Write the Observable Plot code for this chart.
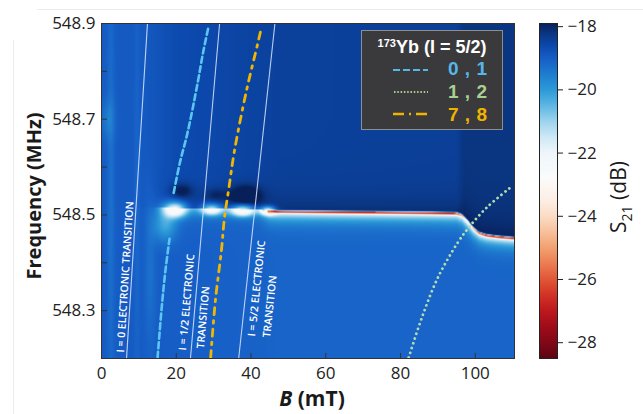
<!DOCTYPE html>
<html><head><meta charset="utf-8">
<script src="https://cdn.jsdelivr.net/npm/d3@7"></script>
<script src="https://cdn.jsdelivr.net/npm/@observablehq/plot@0.6"></script>
<style>
body{margin:0;background:#fff;font-family:"Open Sans",sans-serif;}
#wrap{position:relative;width:643px;height:414px;overflow:hidden;background:#fff;}
#main{position:absolute;left:0;top:0;}
#cbar{position:absolute;left:539px;top:0;}
.rot{position:absolute;transform:translate(-50%,-50%) rotate(-90deg);white-space:nowrap;color:#1a1a1a;}
#xlab{position:absolute;transform:translate(-50%,-50%);white-space:nowrap;color:#1a1a1a;font-weight:700;font-size:21px;left:312px;top:398px;}
#legend{position:absolute;left:361px;top:30px;width:142px;height:100px;background:#3a3a3c;border:1px solid #8e8e8e;box-sizing:border-box;color:#fff;font-family:"Liberation Sans",Arial,sans-serif;}
#legend .t{position:absolute;left:0;width:140px;text-align:center;top:5px;font-weight:700;font-size:18px;line-height:22px;}
#legend .t sup{font-size:11px;vertical-align:0;position:relative;top:-6px;}
#legend .r{position:absolute;left:86px;font-weight:700;font-size:19px;line-height:22px;letter-spacing:0.5px;}
#artT{position:absolute;left:37px;top:9px;width:606px;height:1px;background:#ececec;}
#artL{position:absolute;left:13px;top:40px;width:1px;height:374px;background:#ececec;}
</style></head><body>
<div id="wrap">
  <div id="artT"></div><div id="artL"></div>
  <div id="main"></div>
  <div id="cbar"></div>
  <div class="rot" style="left:33px;top:196px;font-weight:700;font-size:20px;">Frequency (MHz)</div>
  <div id="xlab"><i>B</i> (mT)</div>
  <div class="rot" style="left:620px;top:197px;font-size:21px;">S<sub style="font-size:14px;">21</sub> (dB)</div>
  <div id="legend">
    <svg width="140" height="98" style="position:absolute;left:0;top:0">
      <line x1="31" x2="66" y1="39" y2="39" stroke="#56b8e8" stroke-width="2.2" stroke-dasharray="7,3"/>
      <line x1="32" x2="66" y1="61" y2="61" stroke="#a9d18e" stroke-width="1.8" stroke-dasharray="1.5,1.8"/>
      <line x1="31" x2="66" y1="83" y2="83" stroke="#f0b400" stroke-width="2.4" stroke-dasharray="11,5,2,5"/>
    </svg>
    <div class="t"><sup>173</sup>Yb (I = 5/2)</div>
    <div class="r" style="top:27px;color:#56b8e8;">0 , 1</div>
    <div class="r" style="top:50px;color:#a9d18e;">1 , 2</div>
    <div class="r" style="top:73px;color:#f0b400;">7 , 8</div>
  </div>
</div>
<script>
// ---- axes ----
const bDomain = [0, 110.5];
const fDomain = [548.2, 548.9];
const xTicks = [0, 20, 40, 60, 80, 100];
const yTickLabels = [548.3, 548.5, 548.7, 548.9];
const yTickMarks = [548.3, 548.4, 548.5, 548.6, 548.7, 548.8];
const cbDomain = [-28.5, -17.9];
const cbTicks = [-18, -20, -22, -24, -26, -28];

// ---- resonance centre frequency vs field ----
const resB = [15, 25, 35, 42, 47, 60, 75, 88, 95, 96.5, 98, 99.5, 101, 103, 106, 110.5];
const resF = [548.515, 548.514, 548.513, 548.511, 548.508, 548.507, 548.506, 548.505, 548.504, 548.500, 548.488, 548.473, 548.463, 548.458, 548.455, 548.452];
// background S21 above / below the resonance (dB)
const upB = [0, 12, 20, 40, 48, 95, 97, 110.5];
const upV = [-18.95, -18.9, -18.65, -18.5, -18.45, -18.42, -18.2, -18.2];
const loB = [0, 12, 20, 40, 48, 110.5];
const loV = [-18.95, -18.95, -19.0, -19.05, -19.1, -19.1];
// bright glow just below the resonance (dB drop)
const glowB = [0, 14, 18, 42, 45, 95, 97.5, 100, 110.5];
const glowV = [0, 0, 1.2, 1.2, 3.8, 3.8, 4.2, 3.8, 3.8];
// darkening just above the resonance (dB rise)
const darkB = [0, 14, 20, 42, 46, 95, 97, 110.5];
const darkV = [0, 0, 0.2, 0.3, 0.35, 0.35, 0.3, 0.3];
// sharp absorption line: weight and minimum value
const lineWB = [0, 43, 46, 110.5];
const lineWV = [0, 0, 1, 1];
const lineB = [0, 42, 45, 47, 94, 96.5, 98, 100, 103, 110.5];
const lineV = [-19, -19, -23, -27.3, -27.3, -25, -22.8, -25.5, -27, -27];
// localized features in the low-field region: B, f, widthB, widthF, dB
const blobB = [19.8, 17.0, 21.5, 29.5, 30.5, 37.8, 38.5, 44.5, 2.5, 1.5, 9.5, 13];
const blobF = [548.511, 548.480, 548.550, 548.511, 548.542, 548.509, 548.540, 548.509, 548.55, 548.70, 548.55, 548.38];
const blobSB = [3.0, 3.2, 3.0, 2.8, 3.0, 3.2, 4.0, 2.0, 1.0, 2.0, 0.8, 1.5];
const blobSF = [0.016, 0.035, 0.016, 0.012, 0.014, 0.012, 0.02, 0.009, 0.5, 0.04, 0.5, 0.15];
const blobA = [-3.4, -1.2, 0.8, -3.0, 0.5, -3.6, 1.3, -3.4, -0.35, -0.45, -0.2, -0.35];

// ---- transition curves ----
const elecBot = [6.7, 23.8, 36.7];
const elecTop = [12.3, 31.6, 46.4];
const blueUpB = [19.3, 21.0, 23.0, 25.7, 27.2, 28.6];
const blueUpF = [548.546, 548.61, 548.671, 548.775, 548.84, 548.892];
const blueLoB = [15.0, 16.3, 17.2, 18.2];
const blueLoF = [548.202, 548.323, 548.39, 548.45];
const goldB = [29.2, 30.5, 32.1, 32.9, 34.0, 35.6, 38.8, 41.8, 42.6];
const goldF = [548.202, 548.323, 548.427, 548.494, 548.552, 548.635, 548.760, 548.858, 548.885];
const greenB = [82.2, 85.7, 90.0, 95.3, 98.8, 103.3, 109.2];
const greenF = [548.202, 548.285, 548.369, 548.442, 548.479, 548.517, 548.556];

// ---- annotation labels ----
const labels = ["I = 0 ELECTRONIC TRANSITION", "I = 1/2 ELECTRONIC", "TRANSITION", "I = 5/2 ELECTRONIC", "TRANSITION"];
const labelB = [5.1, 21.7, 26.5, 40.2, 44.2];
const labelF = [548.2125, 548.217, 548.221, 548.246, 548.244];
const labelRot = [-86.4, -85, -85, -84, -84];

// ---- colour map ----
const cStops = [-28.5, -28, -27.5, -27, -26.5, -26, -25.5, -25, -24.5, -24, -23.5, -22.8, -22, -21.5, -21, -20.5, -20, -19.5, -19, -18.6, -18.2, -17.9];
const cCols = ["#5c0412", "#800818", "#9e0c1a", "#bc181e", "#d23226", "#e05636", "#ec7c52", "#f2a070", "#f7c09a", "#fbdcc4", "#fdeee4", "#fbfbfb", "#eef6fb", "#cfe9f6", "#9dd3ee", "#5db7e3", "#2c9ad8", "#1f7ccf", "#165ec6", "#0c48ac", "#0a3580", "#08205a"];
const colorScale = {type: "linear", domain: cStops, range: cCols, interpolate: "rgb", clamp: true};

const sc = (xs, ys) => d3.scaleLinear().domain(xs).range(ys).clamp(true);
const fRes = sc(resB, resF), up = sc(upB, upV), lo = sc(loB, loV), glow = sc(glowB, glowV),
      dark = sc(darkB, darkV), lineW = sc(lineWB, lineWV), lineVal = sc(lineB, lineV);

function s21(B, f) {
  const d = f - fRes(B);
  let v = d >= 0 ? up(B) + dark(B) * Math.exp(-d / 0.03) : lo(B) - glow(B) * Math.exp(d / 0.014);
  const w = lineW(B) * Math.exp(-(((d + 0.0012) / 0.0024) ** 2));
  v = v * (1 - w) + lineVal(B) * w;
  for (let i = 0; i < blobB.length; i++) {
    const u = (B - blobB[i]) / blobSB[i], t = (f - blobF[i]) / blobSF[i];
    v += blobA[i] * Math.exp(-(u * u + t * t));
  }
  return Math.max(v, d < 0.004 && lineW(B) > 0.5 ? -28.5 : -22.9);
}

const pts = (bs, fs) => bs.map((b, i) => ({b, f: fs[i]}));
const elec = elecBot.map((b, i) => ({b0: b, b1: elecTop[i]}));

const main = Plot.plot({
  width: 539, height: 414,
  marginLeft: 101, marginRight: 25, marginTop: 23, marginBottom: 56,
  x: {domain: bDomain},
  y: {domain: fDomain},
  color: colorScale,
  style: {fontFamily: "Open Sans", fontSize: "17px", color: "#222", background: "transparent"},
  marks: [
    Plot.raster({x1: bDomain[0], x2: bDomain[1], y1: fDomain[0], y2: fDomain[1], fill: s21}),
    Plot.link(elec, {x1: "b0", y1: () => fDomain[0], x2: "b1", y2: () => fDomain[1], stroke: "#dbe6ff", strokeWidth: 1.1, strokeOpacity: 0.85}),
    Plot.text(labels, {x: (d, i) => labelB[i], y: (d, i) => labelF[i], text: d => d, rotate: (d, i) => labelRot[i], textAnchor: "start", fill: "white", fontSize: 10.5, fontWeight: 600}),
    Plot.line(pts(blueLoB, blueLoF), {x: "b", y: "f", stroke: "#5cc6f2", strokeWidth: 2.6, strokeDasharray: "6,3.5", curve: "catmull-rom"}),
    Plot.line(pts(blueUpB, blueUpF), {x: "b", y: "f", stroke: "#5cc6f2", strokeWidth: 2.6, strokeDasharray: "6,3.5", curve: "catmull-rom"}),
    Plot.line(pts(goldB, goldF), {x: "b", y: "f", stroke: "#f2b600", strokeWidth: 2.8, strokeDasharray: "7,6,2.5,6", curve: "catmull-rom"}),
    Plot.line(pts(greenB, greenF), {x: "b", y: "f", stroke: "#b2dcb0", strokeWidth: 2.8, strokeDasharray: "0.01,5", strokeLinecap: "round", curve: "catmull-rom"}),
    Plot.frame({stroke: "#333", strokeWidth: 1}),
    Plot.ruleX(xTicks, {stroke: "#333", insetTop: 330}),
    Plot.ruleY(yTickMarks, {stroke: "#333", insetRight: 407}),
    Plot.axisX(xTicks, {tickSize: 0, tickPadding: 8, label: null, fontSize: 17}),
    Plot.axisY(yTickLabels, {tickSize: 0, tickPadding: 6, label: null, fontSize: 17, tickFormat: d => d.toFixed(1)})
  ]
});
document.getElementById("main").appendChild(main);

const cbar = Plot.plot({
  width: 104, height: 414,
  marginLeft: 0, marginRight: 86, marginTop: 23, marginBottom: 56,
  x: {domain: [0, 1], axis: null},
  y: {domain: cbDomain},
  color: colorScale,
  style: {fontFamily: "Open Sans", fontSize: "17px", color: "#222", background: "transparent"},
  marks: [
    Plot.raster({x1: 0, x2: 1, y1: cbDomain[0], y2: cbDomain[1], fill: (x, y) => y}),
    Plot.frame({stroke: "#222", strokeWidth: 1}),
    Plot.axisY(cbTicks, {anchor: "right", tickSize: 5, tickPadding: 5, label: null, fontSize: 17, tickFormat: d => "\u2212" + Math.abs(d)})
  ]
});
document.getElementById("cbar").appendChild(cbar);
</script>
</body></html>
